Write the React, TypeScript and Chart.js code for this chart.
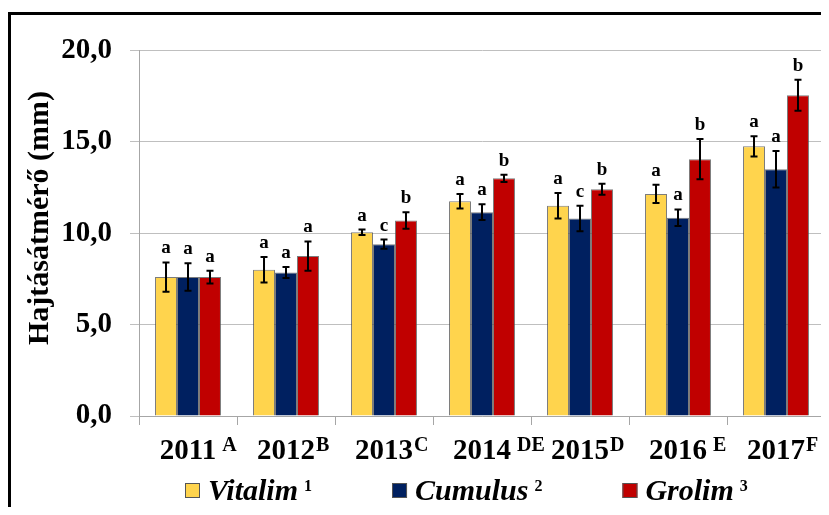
import React, { useEffect, useRef } from "react";
import { Chart, registerables } from "chart.js";

Chart.register(...registerables);

const years = ["2011", "2012", "2013", "2014", "2015", "2016", "2017"];
const yearSup = [" A", "B", "C", " DE", "D", " E", "F"];

const vitalim = [7.6, 8.0, 10.05, 11.75, 11.5, 12.15, 14.75];
const vitalimErr = [0.8, 0.7, 0.15, 0.4, 0.7, 0.5, 0.55];
const vitalimLetters = ["a", "a", "a", "a", "a", "a", "a"];

const cumulus = [7.6, 7.85, 9.4, 11.15, 10.8, 10.85, 13.5];
const cumulusErr = [0.75, 0.3, 0.25, 0.43, 0.7, 0.45, 1.0];
const cumulusLetters = ["a", "a", "c", "a", "c", "a", "a"];

const grolim = [7.6, 8.75, 10.7, 13.0, 12.4, 14.05, 17.55];
const grolimErr = [0.35, 0.8, 0.45, 0.2, 0.3, 1.1, 0.85];
const grolimLetters = ["a", "a", "b", "b", "b", "b", "b"];

const seriesNames = ["Vitalim", "Cumulus", "Grolim"];
const seriesSup = ["1", "2", "3"];
const seriesColors = ["#FFD44D", "#002060", "#C00000"];

const yTitle = "Hajtásátmérő (mm)";
const yTicks = [0, 5, 10, 15, 20];

const FONT = "'Liberation Serif', 'Times New Roman', serif";

const errors = [vitalimErr, cumulusErr, grolimErr];
const letters = [vitalimLetters, cumulusLetters, grolimLetters];

const X_TICK_LEN = 9;
const X_TICK_PAD = 9;
const X_FONT_SIZE = 29;

const extrasPlugin = {
  id: "extras",
  afterDatasetsDraw(chart: any) {
    const ctx = chart.ctx;
    const yScale = chart.scales.y;
    ctx.save();
    chart.data.datasets.forEach((ds: any, di: number) => {
      const meta = chart.getDatasetMeta(di);
      meta.data.forEach((bar: any, i: number) => {
        const v = ds.data[i];
        const e = errors[di][i];
        const x = bar.x;
        const yTop = yScale.getPixelForValue(v + e);
        const yBot = yScale.getPixelForValue(v - e);
        ctx.strokeStyle = "#000";
        ctx.lineWidth = 2;
        ctx.beginPath();
        ctx.moveTo(x, yTop);
        ctx.lineTo(x, yBot);
        ctx.moveTo(x - 3.5, yTop);
        ctx.lineTo(x + 3.5, yTop);
        ctx.moveTo(x - 3.5, yBot);
        ctx.lineTo(x + 3.5, yBot);
        ctx.stroke();
        ctx.fillStyle = "#000";
        ctx.font = `bold 19px ${FONT}`;
        ctx.textAlign = "center";
        ctx.textBaseline = "alphabetic";
        ctx.fillText(letters[di][i], x, yTop - 9);
      });
    });
    ctx.restore();
  },
  afterDraw(chart: any) {
    const ctx = chart.ctx;
    const xScale = chart.scales.x;
    const area = chart.chartArea;
    ctx.save();
    const labelMid = xScale.top + X_TICK_LEN + X_TICK_PAD + (X_FONT_SIZE * 1.2) / 2;
    years.forEach((yr, i) => {
      const x = xScale.getPixelForTick(i);
      ctx.font = `bold ${X_FONT_SIZE}px ${FONT}`;
      const w = ctx.measureText(yr).width;
      ctx.font = `bold 20px ${FONT}`;
      ctx.fillStyle = "#000";
      ctx.textAlign = "left";
      ctx.textBaseline = "alphabetic";
      ctx.fillText(yearSup[i], x + w / 2 + 1, labelMid);
    });
    ctx.save();
    ctx.translate(29, 203);
    ctx.rotate(-Math.PI / 2);
    ctx.font = `bold 30px ${FONT}`;
    ctx.textAlign = "center";
    ctx.textBaseline = "middle";
    ctx.fillStyle = "#000";
    ctx.fillText(yTitle, 0, 0);
    ctx.restore();
    let lx = area.left + 46;
    const base = 485;
    seriesNames.forEach((name, i) => {
      ctx.fillStyle = seriesColors[i];
      ctx.fillRect(lx, base - 17, 15, 15);
      ctx.strokeStyle = "#555";
      ctx.lineWidth = 1;
      ctx.strokeRect(lx + 0.5, base - 16.5, 14, 14);
      lx += 15 + 8;
      ctx.font = `italic bold 30px ${FONT}`;
      ctx.fillStyle = "#000";
      ctx.textAlign = "left";
      ctx.textBaseline = "alphabetic";
      ctx.fillText(name, lx, base);
      lx += ctx.measureText(name).width + 6;
      ctx.font = `bold 16px ${FONT}`;
      ctx.fillText(seriesSup[i], lx, base - 9);
      lx += ctx.measureText(seriesSup[i]).width + 80;
    });
    ctx.restore();
  },
};

export default function App() {
  const ref = useRef<HTMLCanvasElement | null>(null);
  useEffect(() => {
    if (!ref.current) return;
    const datasets = [vitalim, cumulus, grolim].map((d, i) => ({
      label: seriesNames[i],
      data: d,
      backgroundColor: seriesColors[i],
      borderColor: "rgba(80,80,80,0.75)",
      borderWidth: 1,
      barPercentage: 1,
      categoryPercentage: 0.673,
    }));
    const chart = new Chart(ref.current, {
      type: "bar",
      data: { labels: years, datasets },
      plugins: [extrasPlugin],
      options: {
        responsive: false,
        animation: false,
        devicePixelRatio: 1,
        layout: { padding: { top: 33, right: 4, left: 0, bottom: 0 } },
        plugins: { legend: { display: false }, tooltip: { enabled: false } },
        scales: {
          x: {
            afterFit: (s: any) => {
              s.height = 91;
            },
            grid: {
              display: true,
              drawOnChartArea: false,
              drawTicks: true,
              tickLength: X_TICK_LEN,
              color: "#A6A6A6",
              offset: true,
            },
            border: { display: true, color: "#A6A6A6" },
            ticks: {
              color: "#000",
              padding: X_TICK_PAD,
              maxRotation: 0,
              font: { family: FONT, size: X_FONT_SIZE, weight: "bold" },
            },
          },
          y: {
            min: 0,
            max: 20,
            afterFit: (s: any) => {
              s.width = 128;
            },
            afterBuildTicks: (s: any) => {
              s.ticks = yTicks.map((v) => ({ value: v }));
            },
            grid: {
              color: "#BFBFBF",
              drawTicks: true,
              tickLength: 9,
            },
            border: { display: true, color: "#A6A6A6" },
            ticks: {
              color: "#000",
              padding: 18,
              font: { family: FONT, size: 29, weight: "bold" },
              callback: (v: any) => Number(v).toFixed(1).replace(".", ","),
            },
          },
        },
      },
    });
    return () => chart.destroy();
  }, []);
  return (
    <div style={{ width: 821, height: 499, overflow: "hidden", paddingTop: 4, boxSizing: "border-box" }}>
      <div style={{ borderTop: "3px solid #000", borderLeft: "3px solid #000", width: 818, height: 495 }}>
        <canvas ref={ref} width={818} height={492} style={{ display: "block", width: 818, height: 492 }} />
      </div>
    </div>
  );
}
